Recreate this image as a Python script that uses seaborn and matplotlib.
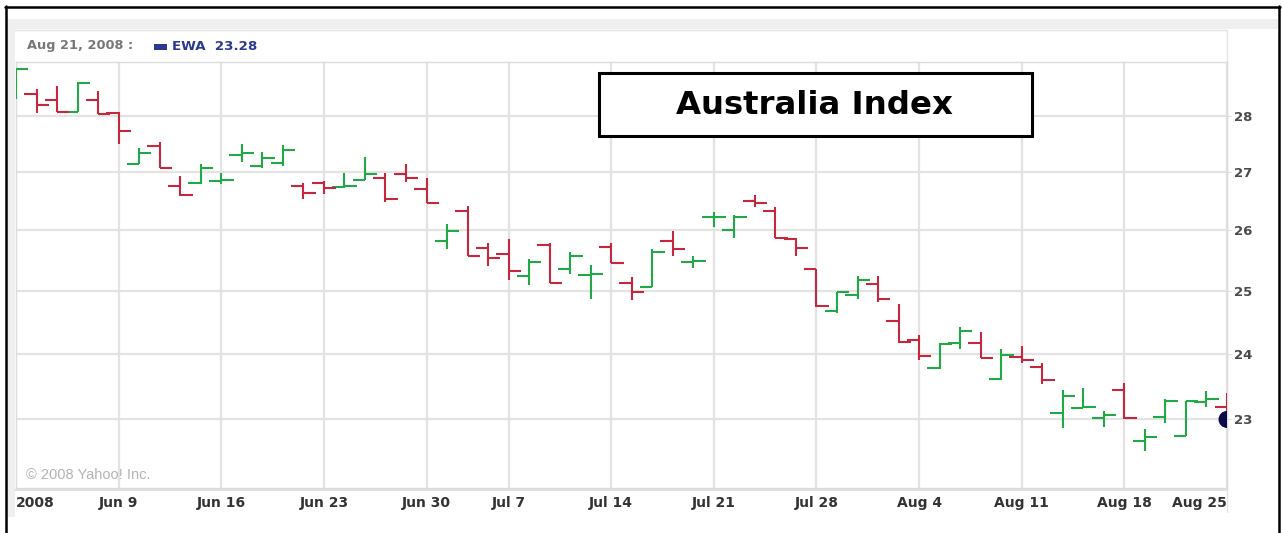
import numpy as np
import pandas as pd
import matplotlib
matplotlib.use("Agg")
import matplotlib.pyplot as plt
from matplotlib.patches import Rectangle
from matplotlib.lines import Line2D
from matplotlib.ticker import NullLocator, NullFormatter
import seaborn as sns

# trading days shown on the chart (EWA, Jun 2 - Aug 25 2008)
dates = [
    "2008-06-02", "2008-06-03", "2008-06-04", "2008-06-05", "2008-06-06",
    "2008-06-09", "2008-06-10", "2008-06-11", "2008-06-12", "2008-06-13",
    "2008-06-16", "2008-06-17", "2008-06-18", "2008-06-19", "2008-06-20",
    "2008-06-23", "2008-06-24", "2008-06-25", "2008-06-26", "2008-06-27",
    "2008-06-30", "2008-07-01", "2008-07-02", "2008-07-03",
    "2008-07-07", "2008-07-08", "2008-07-09", "2008-07-10", "2008-07-11",
    "2008-07-14", "2008-07-15", "2008-07-16", "2008-07-17", "2008-07-18",
    "2008-07-21", "2008-07-22", "2008-07-23", "2008-07-24", "2008-07-25",
    "2008-07-28", "2008-07-29", "2008-07-30", "2008-07-31", "2008-08-01",
    "2008-08-04", "2008-08-05", "2008-08-06", "2008-08-07", "2008-08-08",
    "2008-08-11", "2008-08-12", "2008-08-13", "2008-08-14", "2008-08-15",
    "2008-08-18", "2008-08-19", "2008-08-20", "2008-08-21", "2008-08-22",
    "2008-08-25",
]
opens = [28.31, 28.40, 28.29, 28.08, 28.29, 28.06, 27.14, 27.47, 26.76, 26.81,
         26.85, 27.31, 27.11, 27.17, 26.76, 26.81, 26.74, 26.86, 26.90, 26.96,
         26.70, 25.82, 26.33, 25.70, 25.60, 25.24, 25.76, 25.36, 25.26, 25.72,
         25.13, 25.07, 25.82, 25.47, 26.22, 26.01, 26.50, 26.33, 25.86, 25.35,
         24.67, 24.94, 25.11, 24.51, 24.21, 23.78, 24.17, 24.17, 23.61, 23.95,
         23.80, 23.09, 23.17, 23.02, 23.45, 22.68, 23.04, 22.76, 23.26, 23.18]
highs = [28.87, 28.50, 28.55, 28.62, 28.46, 28.07, 27.42, 27.54, 26.93, 27.14,
         26.98, 27.50, 27.36, 27.48, 26.81, 26.85, 26.99, 27.26, 26.98, 27.15,
         26.90, 26.10, 26.42, 25.79, 25.85, 25.53, 25.78, 25.63, 25.42, 25.79,
         25.22, 25.68, 25.99, 25.58, 26.31, 26.26, 26.60, 26.39, 25.88, 25.36,
         24.98, 25.24, 25.24, 24.79, 24.29, 24.17, 24.42, 24.34, 24.08, 24.12,
         23.86, 23.45, 23.47, 23.12, 23.55, 22.86, 23.31, 23.28, 23.43, 23.40]
lows = [28.31, 28.05, 28.07, 28.07, 28.03, 27.50, 27.14, 27.08, 26.58, 26.79,
        26.79, 27.18, 27.08, 27.11, 26.53, 26.62, 26.72, 26.86, 26.48, 26.83,
        26.46, 25.68, 25.57, 25.40, 25.17, 25.10, 25.13, 25.28, 24.87, 25.45,
        24.85, 25.06, 25.57, 25.38, 26.06, 25.88, 26.40, 25.88, 25.57, 24.74,
        24.65, 24.87, 24.82, 24.17, 23.90, 23.77, 24.08, 23.94, 23.59, 23.85,
        23.54, 22.88, 23.17, 22.89, 23.00, 22.53, 22.94, 22.76, 23.18, 23.08]
closes = [28.87, 28.20, 28.08, 28.61, 28.03, 27.73, 27.33, 27.08, 26.61, 27.08,
          26.86, 27.33, 27.25, 27.39, 26.63, 26.73, 26.76, 26.96, 26.54, 26.89,
          26.46, 25.99, 25.57, 25.54, 25.32, 25.47, 25.13, 25.57, 25.28, 25.45,
          24.98, 25.63, 25.68, 25.49, 26.23, 26.22, 26.46, 25.88, 25.70, 24.75,
          24.98, 25.18, 24.87, 24.18, 23.96, 24.16, 24.36, 23.94, 23.98, 23.90,
          23.60, 23.35, 23.19, 23.07, 23.02, 22.74, 23.28, 23.28, 23.30, 23.08]
last_price = 23.00

tick_dates = ["2008-06-02", "2008-06-09", "2008-06-16", "2008-06-23", "2008-06-30",
              "2008-07-07", "2008-07-14", "2008-07-21", "2008-07-28", "2008-08-04",
              "2008-08-11", "2008-08-18", "2008-08-25"]
tick_labels = ["2008", "Jun 9", "Jun 16", "Jun 23", "Jun 30", "Jul 7", "Jul 14",
               "Jul 21", "Jul 28", "Aug 4", "Aug 11", "Aug 18", "Aug 25"]
price_ticks = [23, 24, 25, 26, 27, 28]

df = pd.DataFrame({"date": dates, "open": opens, "high": highs,
                   "low": lows, "close": closes})
df["x"] = np.arange(len(df))
df["up"] = df["close"] >= df["open"]
tick_pos = [dates.index(d) for d in tick_dates]

GREEN = "#22a846"
RED = "#c4283f"
colors = np.where(df["up"], GREEN, RED)

sns.set_style("white")
plt.rcParams["font.family"] = ["DejaVu Sans"]

W, H = 1282, 533
fig = plt.figure(figsize=(W / 100, H / 100), dpi=100)


def fx(px):
    return px / W


def fy(py):
    return 1 - py / H


# frame of the yahoo widget
fig.patches.append(Rectangle((fx(7), fy(517)), fx(1278 - 7), (517 - 19) / H,
                             transform=fig.transFigure, facecolor="#efefef",
                             edgecolor="none", zorder=-3))
fig.patches.append(Rectangle((fx(15), fy(517)), fx(1278 - 15), (517 - 29) / H,
                             transform=fig.transFigure, facecolor="white",
                             edgecolor="none", zorder=-2))
fig.lines.append(Line2D([fx(15), fx(1227)], [fy(490), fy(490)], transform=fig.transFigure,
                        color="#dcdcdc", lw=1.2, zorder=-1))
fig.lines.append(Line2D([fx(1227), fx(1227)], [fy(30), fy(512)], transform=fig.transFigure,
                        color="#e4e4e4", lw=1.0, zorder=-1))
fig.lines.append(Line2D([fx(15), fx(1227)], [fy(30), fy(30)], transform=fig.transFigure,
                        color="#e4e4e4", lw=1.0, zorder=-1))

# outer black border
for xs, ys in [([5, 1280], [7, 7]), ([6, 6], [6, 540]), ([1279, 1279], [6, 540])]:
    fig.lines.append(Line2D([fx(v) for v in xs], [fy(v) for v in ys],
                            transform=fig.transFigure, color="black", lw=1.8, zorder=10))

ax = fig.add_axes([fx(16), fy(488), fx(1227 - 16), (488 - 62) / H])
ax.set_facecolor("white")

# OHLC bars
ax.vlines(df["x"], df["low"], df["high"], colors=colors, lw=1.5, zorder=3)
ax.hlines(df["open"], df["x"] - 0.6, df["x"], colors=colors, lw=1.5, zorder=3)
ax.hlines(df["close"], df["x"], df["x"] + 0.6, colors=colors, lw=1.5, zorder=3)
sns.scatterplot(x=[df["x"].iloc[-1]], y=[last_price], ax=ax, color="#0b0b4a",
                s=150, edgecolor="none", zorder=4, legend=False)

ax.set_yscale("log")
ax.set_ylim(22.0, 29.0)
ax.set_xlim(0, len(df) - 1)
ax.yaxis.tick_right()
ax.set_yticks(price_ticks)
ax.set_yticklabels([str(p) for p in price_ticks])
ax.yaxis.set_minor_locator(NullLocator())
ax.yaxis.set_minor_formatter(NullFormatter())
ax.set_xticks(tick_pos)
ax.set_xticklabels(tick_labels)

ax.grid(True, color="#e3e3e3", lw=1.6)
ax.set_axisbelow(True)
for s in ax.spines.values():
    s.set_color("#dcdcdc")
    s.set_linewidth(1.0)

ax.tick_params(axis="y", length=3, color="#dcdcdc", pad=2, labelsize=9.5,
               labelcolor="#4a4a4a")
ax.tick_params(axis="x", length=0, pad=6, labelsize=10, labelcolor="#333333")
for lab in ax.get_yticklabels() + ax.get_xticklabels():
    lab.set_fontweight("bold")
xl = ax.get_xticklabels()
xl[0].set_horizontalalignment("left")
xl[-1].set_horizontalalignment("right")
ax.set_xlabel("")
ax.set_ylabel("")

ax.text(0.008, 0.022, "\u00a9 2008 Yahoo! Inc.", transform=ax.transAxes,
        fontsize=10.5, color="#b4b4b4", family=["Liberation Sans"])

# header line
fig.text(fx(27), fy(46), "Aug 21, 2008 :", fontsize=9.3, fontweight="bold",
         color="#777777", va="center")
fig.patches.append(Rectangle((fx(154), fy(50)), fx(13), 6 / H, transform=fig.transFigure,
                             facecolor="#2b3990", edgecolor="none", zorder=2))
fig.text(fx(172), fy(46), "EWA  23.28", fontsize=9.6, fontweight="bold",
         color="#2b3990", va="center")

# title box
fig.patches.append(Rectangle((fx(599), fy(136)), fx(1032 - 599), (136 - 73) / H,
                             transform=fig.transFigure, facecolor="white",
                             edgecolor="black", lw=2.2, zorder=5))
fig.text(fx(814), fy(105), "Australia Index", fontsize=23.3, fontweight="bold",
         color="black", ha="center", va="center", zorder=6)

fig.savefig("out.png", dpi=100)
